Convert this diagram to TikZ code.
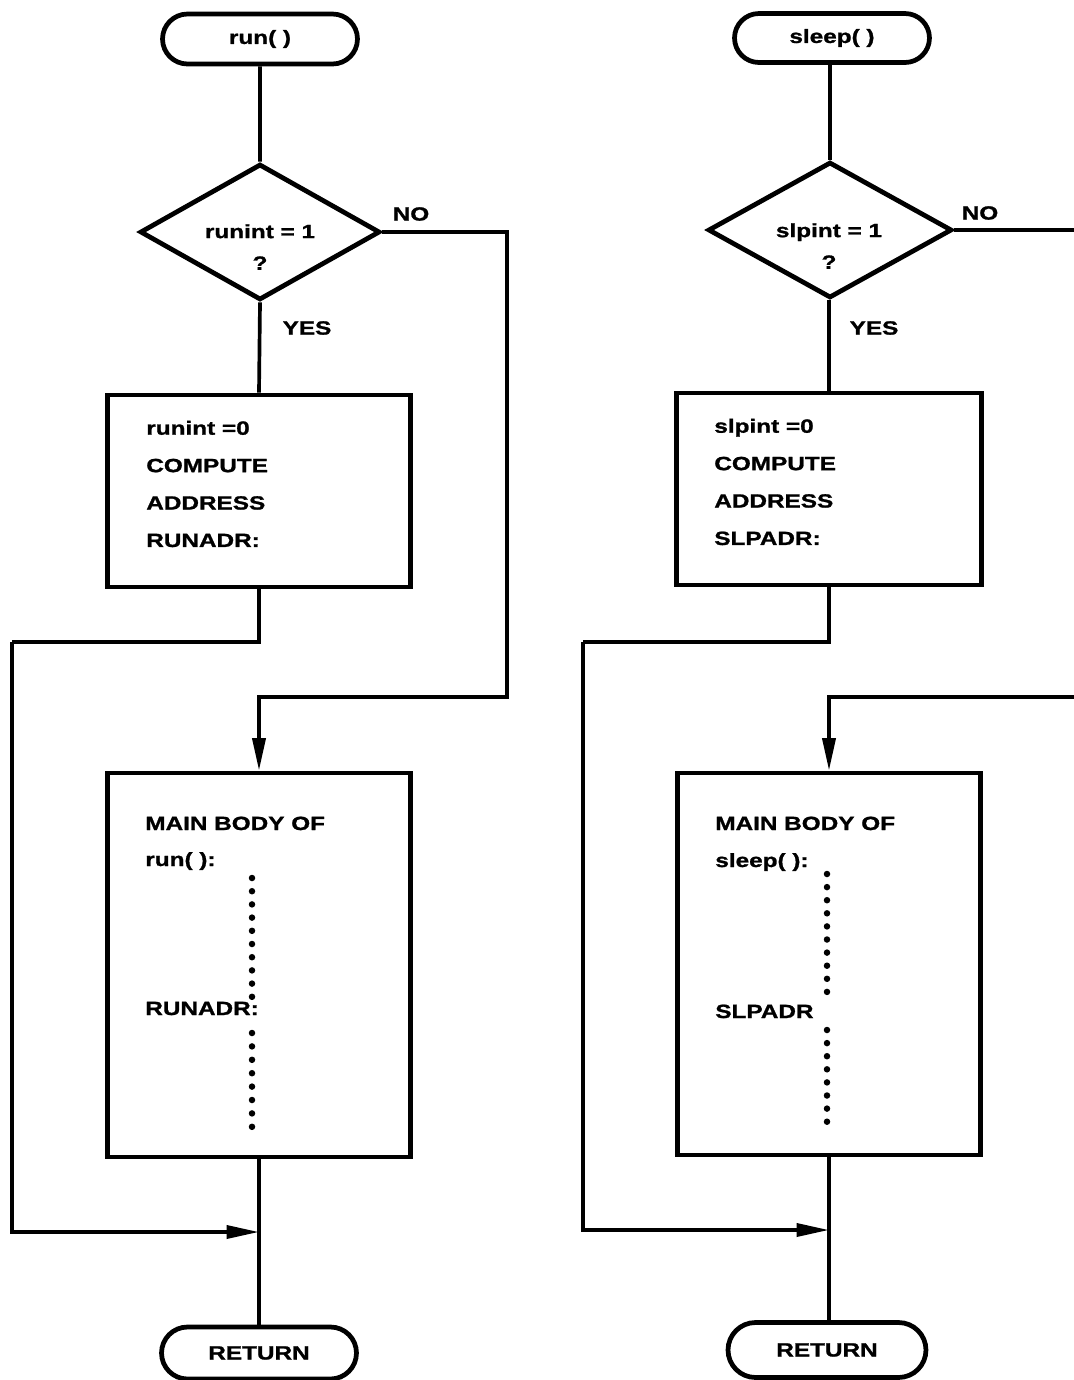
\documentclass[tikz,border=0pt]{standalone}
\usepackage{fontspec}
\setmainfont{Liberation Sans}[FakeStretch=1.27,FakeBold=1.2]
\usetikzlibrary{shapes.geometric,shapes.misc,arrows.meta}

\begin{document}
\begin{tikzpicture}[x=0.02cm,y=-0.02cm,
	font=\bfseries\fontsize{10.9}{21.3}\selectfont,
	term/.style={rounded rectangle,draw,line width=2.7pt,minimum width=3.9cm,minimum height=1cm,inner sep=0pt},
	decis/.style={diamond,draw,line width=2.7pt,minimum width=4.8cm,minimum height=2.72cm,inner sep=0pt},
	box/.style={rectangle,draw,line width=2.7pt,minimum width=6.06cm,inner sep=0pt},
	code/.style={anchor=west,align=left,inner sep=0pt},
	txt/.style={anchor=base west,inner sep=0pt},
	flow/.style={line width=2.1pt},
	arr/.style={flow,-{Triangle[length=0.65cm,width=0.26cm]}}]
	\useasboundingbox (0,0) rectangle (1074,1380);

	% run( )
	\node[term] (runT) at (260,39) {run( )};
	\node[decis] (runD) at (260,232) {};
	\node[align=center] (runQ) at (260,247) {runint = 1\\[-3.3pt]?};
	\node[box,minimum height=3.84cm] (runB) at (259,491) {};
	\node[code] (runBt) at (146,484) {runint =0\\COMPUTE\\ADDRESS\\RUNADR:};
	\node[box,minimum height=7.68cm] (runM) at (259,965) {};
	\node[term,minimum height=1.04cm] (runR) at (259,1353) {RETURN};
	\node[txt] (runMa) at (145,830) {MAIN BODY OF};
	\node[txt] (runMb) at (145,866) {run( ):};
	\node[txt] (runMc) at (145,1015) {RUNADR:};
	\foreach \k in {0,...,9}
		\fill (252,{878+13.2*\k}) circle (0.065cm);
	\foreach \k in {0,...,7}
		\fill (252,{1033+13.4*\k}) circle (0.065cm);
	\node (runNo) at (411,214) {NO};
	\node (runYes) at (307,328) {YES};

	\coordinate (runN) at (507,697);
	\coordinate (runY) at (12,642);
	\coordinate (runJ) at (259,1232);
	\draw[flow] (runT) -- (runD);
	\draw[flow] (runD.south) -- (runB.north);
	\draw[arr] (runD.east) -| (runN) -| (runM.north);
	\draw[flow] (runB.south) |- (runY);
	\draw[arr] (runY) |- (runJ);
	\draw[flow] (runM.south) -- (runR.north);

	% sleep( )
	\node[term,minimum height=0.98cm] (slpT) at (832,38) {sleep( )};
	\node[decis,minimum width=4.88cm] (slpD) at (830,230) {};
	\node[align=center] (slpQ) at (829,246) {slpint = 1\\[-3.3pt]?};
	\node[box,minimum width=6.1cm,minimum height=3.84cm] (slpB) at (829,489) {};
	\node[code] (slpBt) at (714,482) {slpint =0\\COMPUTE\\ADDRESS\\SLPADR:};
	\node[box,minimum height=7.64cm] (slpM) at (829,964) {};
	\node[term,minimum width=3.96cm,minimum height=1.1cm] (slpR) at (827,1350) {RETURN};
	\node[txt] (slpMa) at (715,830) {MAIN BODY OF};
	\node[txt] (slpMb) at (715,867) {sleep( ):};
	\node[txt] (slpMc) at (715,1018) {SLPADR};
	\foreach \k in {0,...,9}
		\fill (827,{874+13.1*\k}) circle (0.065cm);
	\foreach \k in {0,...,7}
		\fill (827,{1030+13.1*\k}) circle (0.065cm);
	\node (slpNo) at (980,213) {NO};
	\node (slpYes) at (874,328) {YES};

	\coordinate (slpNa) at (1074,230);
	\coordinate (slpNb) at (1074,697);
	\coordinate (slpY) at (583,642);
	\coordinate (slpJ) at (829,1230);
	\draw[flow] (slpT.south -| slpD.north) -- (slpD.north);
	\draw[flow] (slpD.south -| slpB.north) -- (slpB.north);
	\draw[flow] (slpD.east) -- (slpNa);
	\draw[arr] (slpNb) -| (slpM.north);
	\draw[flow] (slpB.south) |- (slpY);
	\draw[arr] (slpY) |- (slpJ);
	\draw[flow] (slpM.south) -- (slpM.south |- slpR.north);
\end{tikzpicture}
\end{document}
